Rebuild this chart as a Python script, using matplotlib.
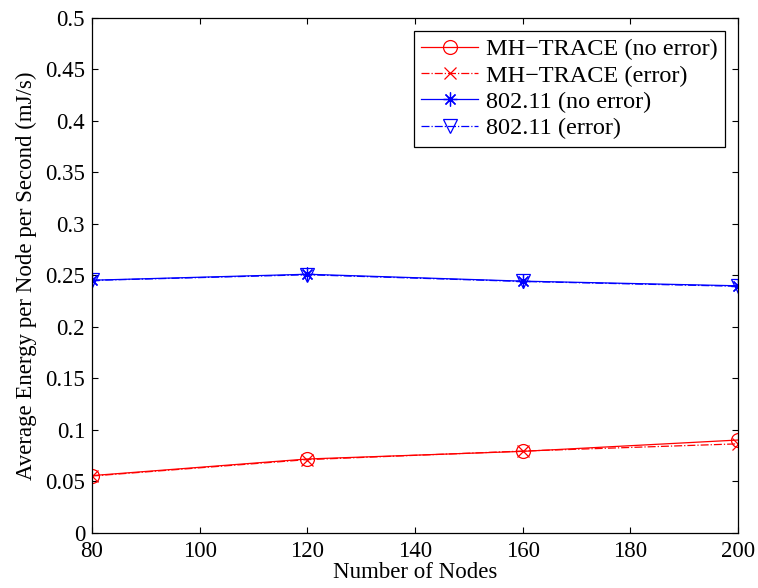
import matplotlib
matplotlib.use('Agg')
import matplotlib.pyplot as plt

# dati
nodes = [80, 120, 160, 200]
mh_no_err = [0.0557, 0.0718, 0.0792, 0.0902]
mh_err = [0.0553, 0.0712, 0.0795, 0.0865]
wifi_no_err = [0.2452, 0.2510, 0.2443, 0.2398]
wifi_err = [0.2450, 0.2505, 0.2440, 0.2393]

plt.rcParams['font.family'] = ['Liberation Serif', 'DejaVu Serif']

fig = plt.figure(figsize=(7.58, 5.88), dpi=100)
ax = fig.add_axes([0.1214, 0.0935, 0.8522, 0.8767])

asterisk = (8, 2, 0)

ax.plot(nodes, mh_no_err, color='red', linestyle='-', linewidth=0.9,
        marker='o', markersize=10, markerfacecolor='none', markeredgewidth=0.9,
        label='MH\u2212TRACE (no error)')
ax.plot(nodes, mh_err, color='red', linestyle='-.', linewidth=0.9,
        marker='x', markersize=8, markeredgewidth=0.9,
        label='MH\u2212TRACE (error)')
ax.plot(nodes, wifi_no_err, color='blue', linestyle='-', linewidth=0.9,
        marker=asterisk, markersize=10, markeredgewidth=0.9,
        label='802.11 (no error)')
ax.plot(nodes, wifi_err, color='blue', linestyle='-.', linewidth=0.9,
        marker='v', markersize=10, markerfacecolor='none', markeredgewidth=0.9,
        label='802.11 (error)')

ax.set_xlim(80, 200)
ax.set_ylim(0, 0.5)
ax.set_xticks([80, 100, 120, 140, 160, 180, 200])
ax.set_yticks([0, 0.05, 0.1, 0.15, 0.2, 0.25, 0.3, 0.35, 0.4, 0.45, 0.5])
ax.set_yticklabels(['0', '0.05', '0.1', '0.15', '0.2', '0.25', '0.3',
                    '0.35', '0.4', '0.45', '0.5'])
ax.tick_params(direction='in', top=True, right=True, labelsize=16.5,
               length=4, width=0.8)
ax.tick_params(axis='x', pad=6)
ax.tick_params(axis='y', pad=5)
for s in ax.spines.values():
    s.set_linewidth(0.9)

ax.set_xlabel('Number of Nodes', fontsize=16.5, labelpad=0)
ax.set_ylabel('Average Energy per Node per Second (mJ/s)', fontsize=16.5, labelpad=6)

leg = ax.legend(loc='upper right', fontsize=17.5, handlelength=2.35,
                fancybox=False, framealpha=1, edgecolor='black',
                borderpad=0.3, labelspacing=0.18, handletextpad=0.3,
                borderaxespad=0.55)
leg.get_frame().set_linewidth(0.9)

fig.savefig('out.png', dpi=100)
